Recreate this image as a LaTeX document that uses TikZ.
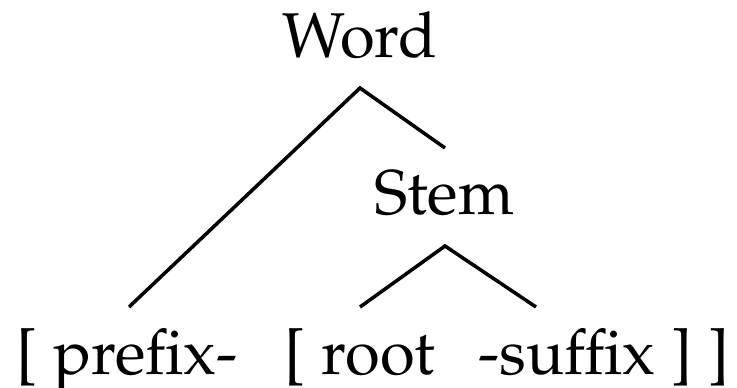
\documentclass[tikz,border=0pt]{standalone}
\usepackage[T1]{fontenc}
\usepackage{mathpazo}
\usepackage{tikz}
\usetikzlibrary{positioning}

\begin{document}
\begin{tikzpicture}[x=0.03cm, y=-0.03cm,
  cat/.style={font=\fontsize{54pt}{60pt}\selectfont, anchor=base, inner sep=0pt},
  morph/.style={font=\fontsize{54pt}{60pt}\selectfont, anchor=base, inner sep=0pt},
  branch/.style={line width=3pt, line cap=butt, line join=miter}
]
\useasboundingbox (0,0) rectangle (737,387);
% labels
\node[cat]   at (360, 57)  (word)   {Word};
\node[cat]   at (444, 214) (stem)   {Stem};
\node[morph] at (127, 374) (prefix) {[ prefix-};
\node[morph] at (360, 374) (root)   {[ root};
\node[morph] at (604, 374) (suffix) {-suffix ] ]};
% branch points
\coordinate (wtop) at (360, 88);
\coordinate (wend) at (445, 148);
\coordinate (stop) at (445, 246);
\coordinate (pend) at (129, 307);
\coordinate (rend) at (360, 307);
\coordinate (send) at (536, 307);
\draw[branch] (pend) -- (wtop) -- (wend);
\draw[branch] (rend) -- (stop) -- (send);
\end{tikzpicture}
\end{document}
